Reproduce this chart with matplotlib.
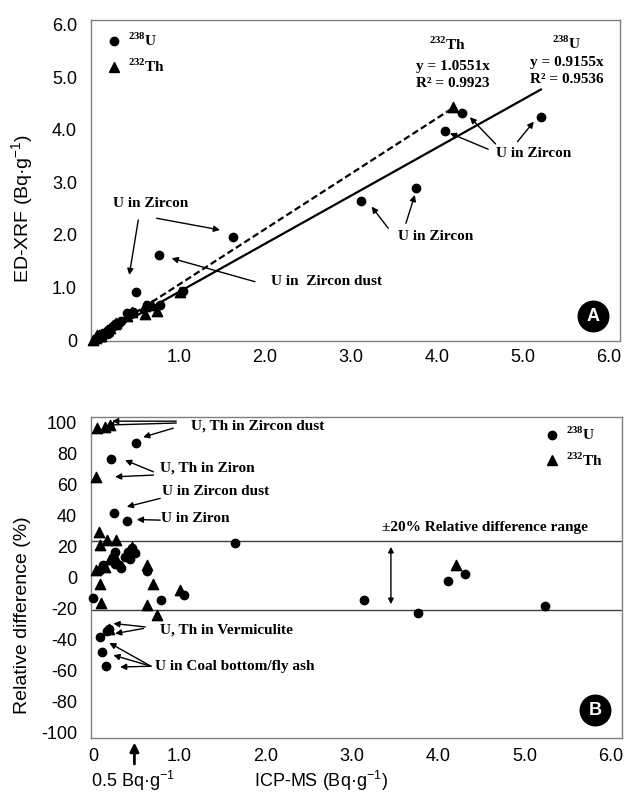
import matplotlib
matplotlib.use("Agg")
import matplotlib.pyplot as plt
from matplotlib.lines import Line2D

plt.rcParams['font.family'] = ['Liberation Sans', 'DejaVu Sans']
plt.rcParams['mathtext.fontset'] = 'custom'
plt.rcParams['mathtext.rm'] = 'Liberation Serif:bold'
plt.rcParams['mathtext.sf'] = 'Liberation Sans'
plt.rcParams['axes.unicode_minus'] = False

# --- panel A : ED-XRF vs ICP-MS (Bq/g) ---
u_icp = [5.21, 4.29, 4.10, 3.76, 3.12, 1.63, 0.77, 0.50, 0.78, 0.39, 0.47, 0.33, 0.30,
         0.26, 0.22, 0.19, 0.16, 0.12, 0.10, 0.08, 0.05, 0.63, 1.05]
u_xrf = [4.25, 4.33, 3.98, 2.90, 2.65, 1.97, 1.61, 0.91, 0.67, 0.51, 0.54, 0.36, 0.33,
         0.30, 0.25, 0.14, 0.11, 0.13, 0.06, 0.05, 0.04, 0.66, 0.93]
th_icp = [4.19, 1.01, 0.61, 0.74, 0.60, 0.69, 0.45, 0.39, 0.27, 0.26, 0.20, 0.16, 0.14,
          0.09, 0.08, 0.07, 0.04, 0.03, 0.05, 0.0]
th_xrf = [4.44, 0.92, 0.65, 0.56, 0.50, 0.66, 0.53, 0.45, 0.33, 0.30, 0.22, 0.19, 0.15,
          0.08, 0.08, 0.09, 0.04, 0.05, 0.10, 0.0]
u_slope = 0.9155
th_slope = 1.0551

# --- panel B : relative difference (%) ---
u_x = [5.24, 4.31, 4.12, 3.77, 3.14, 1.65, 1.05, 0.79, 0.63, 0.50, 0.21, 0.24, 0.39, 0.26,
       0.22, 0.26, 0.33, 0.41, 0.45, 0.49, 0.37, 0.12, 0.08, 0.00, 0.19, 0.16, 0.08, 0.10,
       0.15, 0.30, 0.43]
u_rd = [-18.5, 2.1, -2.4, -22.8, -14.6, 21.9, -11.4, -14.6, 4.3, 86.7, 76.0, 41.6, 36.4, 16.5,
        11.0, 9.0, 5.8, 16.5, 18.7, 15.5, 13.3, 8.0, 4.7, -12.9, -32.9, -34.6, -38.6, -47.9,
        -56.9, 8.0, 12.0]
th_x = [4.21, 1.01, 0.74, 0.63, 0.69, 0.63, 0.09, 0.08, 0.04, 0.14, 0.26, 0.39, 0.45, 0.20,
        0.07, 0.08, 0.16, 0.27, 0.03, 0.05, 0.14, 0.20, 0.19, 0.47]
th_rd = [7.9, -8.2, -24.3, -17.8, -3.9, 8.0, -16.1, -4.5, 4.7, 6.8, 13.0, 15.5, 19.7, 12.0,
         29.4, 20.8, 24.0, 24.0, 64.4, 96.0, 97.0, 98.0, -33.0, 18.0]
band = [23.8, -21.2]

serif = 'Liberation Serif'
fig = plt.figure(figsize=(6.32, 7.95), dpi=100)
axA = fig.add_axes([0.144, 0.571, 0.837, 0.404])
axB = fig.add_axes([0.144, 0.0717, 0.840, 0.404])

for ax in (axA, axB):
    for s in ax.spines.values():
        s.set_color('#808080')
        s.set_linewidth(1.0)
    ax.set_xlim(-0.023, 6.13)

# ---------- A ----------
axA.set_ylim(-0.02, 6.095)
axA.set_xticks([1, 2, 3, 4, 5, 6])
axA.set_xticklabels(['1.0', '2.0', '3.0', '4.0', '5.0', '6.0'])
axA.set_yticks([0, 1, 2, 3, 4, 5, 6])
axA.set_yticklabels(['0', '1.0', '2.0', '3.0', '4.0', '5.0', '6.0'])
axA.tick_params(length=0, labelsize=13)
axA.tick_params(axis='x', pad=6)
axA.tick_params(axis='y', pad=10)

xu_end = max(u_icp)
xt_end = max(th_icp)
axA.plot([0, xu_end], [0, u_slope * xu_end], color='black', lw=1.6)
axA.plot([0, xt_end], [0, th_slope * xt_end], color='black', lw=1.6, ls=(0, (3, 1.5)))
axA.scatter(u_icp, u_xrf, marker='o', s=36, color='black', zorder=3)
axA.scatter(th_icp, th_xrf, marker='^', s=55, color='black', zorder=3, clip_on=False)

tkw = dict(family=serif, fontweight='bold', fontsize=11, ha='center', va='center')
axA.text(5.515, 5.651, r'$^{238}$U', **tkw)
axA.text(5.515, 5.282, 'y = 0.9155x', **tkw)
axA.text(5.515, 4.952, 'R² = 0.9536', **tkw)
axA.text(4.12, 5.632, r'$^{232}$Th', **tkw)
axA.text(4.19, 5.206, 'y = 1.0551x', **tkw)
axA.text(4.19, 4.89, 'R² = 0.9923', **tkw)

akw = dict(arrowstyle='-|>', color='black', lw=1.0, mutation_scale=9, shrinkA=0, shrinkB=0)
axA.text(5.12, 3.56, 'U in Zircon', **tkw)
for (x0, y0, x1, y1) in [(4.597, 3.632, 4.151, 3.937), (4.683, 3.733, 4.384, 4.242),
                         (4.938, 3.777, 5.128, 4.158)]:
    axA.annotate('', xy=(x1, y1), xytext=(x0, y0), arrowprops=akw)
axA.text(3.99, 1.968, 'U in Zircon', **tkw)
for (x0, y0, x1, y1) in [(3.434, 2.128, 3.241, 2.539), (3.640, 2.223, 3.744, 2.762)]:
    axA.annotate('', xy=(x1, y1), xytext=(x0, y0), arrowprops=akw)
axA.text(0.671, 2.604, 'U in Zircon', **tkw)
for (x0, y0, x1, y1) in [(0.527, 2.286, 0.422, 1.238), (0.741, 2.318, 1.477, 2.095)]:
    axA.annotate('', xy=(x1, y1), xytext=(x0, y0), arrowprops=akw)
axA.text(2.72, 1.105, 'U in  Zircon dust', **tkw)
axA.annotate('', xy=(0.915, 1.556), xytext=(1.884, 1.110), arrowprops=akw)

axA.plot([5.817], [0.457], marker='o', ms=22, color='black', clip_on=False)
axA.text(5.817, 0.457, 'A', color='white', fontsize=13, fontweight='bold', ha='center', va='center')

hA = [Line2D([], [], marker='o', ls='', color='black', ms=6),
      Line2D([], [], marker='^', ls='', color='black', ms=7)]
axA.legend(hA, [r'$^{238}$U', r'$^{232}$Th'], loc='upper left', bbox_to_anchor=(0.0, 1.005),
           frameon=False, handletextpad=0.3, labelspacing=0.55, handlelength=1.2,
           prop=dict(family=serif, weight='bold', size=11))

# ---------- B ----------
axB.set_ylim(-103.3, 103.4)
axB.set_xticks([0, 1, 2, 3, 4, 5, 6])
axB.set_xticklabels(['0', '1.0', '2.0', '3.0', '4.0', '5.0', '6.0'])
axB.set_yticks(range(-100, 101, 20))
axB.tick_params(length=0, labelsize=13)
axB.tick_params(axis='x', pad=7)
axB.tick_params(axis='y', pad=10)

for b in band:
    axB.axhline(b, color='#404040', lw=1.0)
axB.scatter(u_x, u_rd, marker='o', s=36, color='black', zorder=3, clip_on=False)
axB.scatter(th_x, th_rd, marker='^', s=55, color='black', zorder=3, clip_on=False)

lkw = dict(family=serif, fontweight='bold', fontsize=11, ha='left', va='center')
axB.text(1.136, 97.4, 'U, Th in Zircon dust', **lkw)
for (x0, y0, x1, y1) in [(0.965, 100.6, 0.221, 100.6), (0.965, 99.4, 0.163, 98.1),
                         (0.930, 96.1, 0.581, 90.3)]:
    axB.annotate('', xy=(x1, y1), xytext=(x0, y0), arrowprops=akw)
axB.text(0.771, 70.2, 'U, Th in Ziron', **lkw)
for (x0, y0, x1, y1) in [(0.701, 68.0, 0.372, 75.5), (0.701, 65.9, 0.256, 64.8)]:
    axB.annotate('', xy=(x1, y1), xytext=(x0, y0), arrowprops=akw)
axB.text(0.799, 55.1, 'U in Zircon dust', **lkw)
axB.annotate('', xy=(0.392, 45.5), xytext=(0.779, 50.9), arrowprops=akw)
axB.text(0.791, 38.0, 'U in Ziron', **lkw)
axB.annotate('', xy=(0.508, 37.3), xytext=(0.779, 36.9), arrowprops=akw)
axB.text(4.547, 32.2, '±20% Relative difference range', family=serif, fontweight='bold',
         fontsize=11, ha='center', va='center')
axB.annotate('', xy=(3.453, 19.7), xytext=(3.453, -17.2),
             arrowprops=dict(arrowstyle='<|-|>', color='black', lw=1.0, mutation_scale=8,
                             shrinkA=0, shrinkB=0))
axB.text(0.779, -33.9, 'U, Th in Vermiculite', **lkw)
for (x0, y0, x1, y1) in [(0.605, -31.8, 0.236, -29.6), (0.585, -32.8, 0.256, -36.1)]:
    axB.annotate('', xy=(x1, y1), xytext=(x0, y0), arrowprops=akw)
axB.text(0.721, -57.1, 'U in Coal bottom/fly ash', **lkw)
for (x1, y1) in [(0.190, -42.1), (0.236, -50.0), (0.314, -57.6)]:
    axB.annotate('', xy=(x1, y1), xytext=(0.671, -57.1), arrowprops=akw)

axB.plot([5.817], [-85.4], marker='o', ms=22, color='black', clip_on=False)
axB.text(5.817, -85.4, 'B', color='white', fontsize=13, fontweight='bold', ha='center', va='center')

hB = [Line2D([], [], marker='o', ls='', color='black', ms=6),
      Line2D([], [], marker='^', ls='', color='black', ms=7)]
axB.legend(hB, [r'$^{238}$U', r'$^{232}$Th'], loc='upper right', bbox_to_anchor=(0.99, 1.015),
           frameon=False, handletextpad=0.3, labelspacing=0.55, handlelength=1.2,
           prop=dict(family=serif, weight='bold', size=11))

# axis titles and the 0.5 Bq/g marker
fig.text(0.036, 0.738, r'ED-XRF (Bq·g$^{\mathsf{-1}}$)', rotation=90, fontsize=14,
         ha='center', va='center')
fig.text(0.036, 0.226, 'Relative difference (%)', rotation=90, fontsize=14,
         ha='center', va='center')
fig.text(0.508, 0.018, r'ICP-MS (Bq·g$^{\mathsf{-1}}$)', fontsize=13, ha='center', va='center')
fig.text(0.2104, 0.018, r'0.5 Bq·g$^{\mathsf{-1}}$', fontsize=13, ha='center', va='center')
axB.annotate('', xy=(0.48, 0.066), xycoords=('data', 'figure fraction'),
             xytext=(0.48, 0.039), textcoords=('data', 'figure fraction'),
             arrowprops=dict(arrowstyle='-|>', color='black', lw=2.0, mutation_scale=13,
                             shrinkA=0, shrinkB=0))

fig.savefig('out.png', dpi=100)
